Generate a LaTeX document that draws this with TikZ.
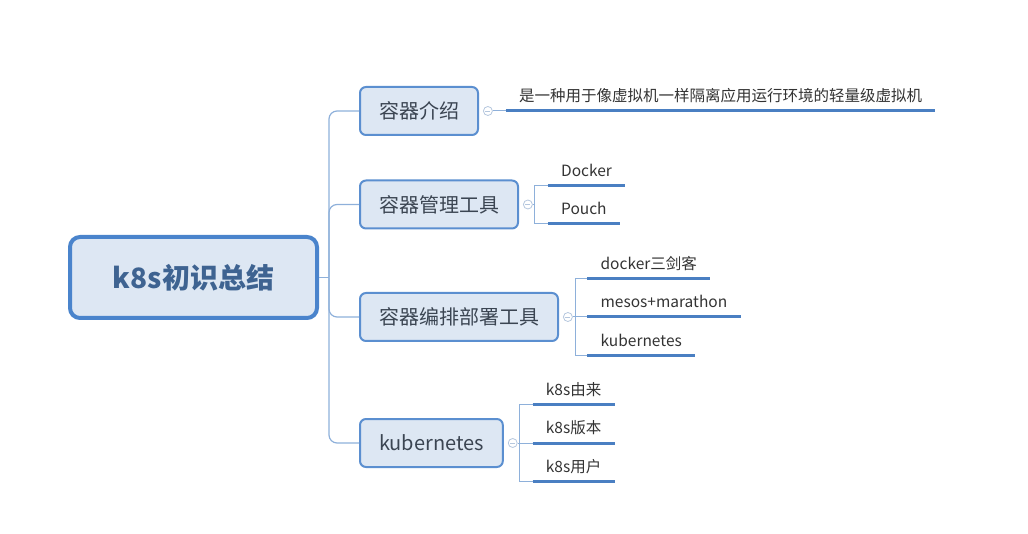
\documentclass[tikz,border=0pt]{standalone}
\usepackage{fontspec}
\newfontfamily\cjk{Noto Sans CJK SC}
\usetikzlibrary{positioning,calc}

\definecolor{boxfill}{HTML}{DDE7F3}
\definecolor{boxline}{HTML}{5B8FD0}
\definecolor{rootline}{HTML}{4A84CC}
\definecolor{roottext}{HTML}{3E6391}
\definecolor{topictext}{HTML}{3B4552}
\definecolor{twigline}{HTML}{8EB0DA}
\definecolor{ulinecolor}{HTML}{4A7FC2}
\definecolor{foldline}{HTML}{B5C7DE}

\begin{document}
\begin{tikzpicture}[%
x=1pt, y=-1pt,
root/.style={draw=rootline, line width=4pt, fill=boxfill, rounded corners=10pt,
  minimum width=247pt, minimum height=81pt, text=roottext,
  font=\cjk\bfseries\fontsize{28}{32}\selectfont},
topic/.style={draw=boxline, line width=2pt, fill=boxfill, rounded corners=6pt,
  minimum height=48pt, inner xsep=19pt, anchor=west, text=topictext,
  font=\cjk\fontsize{20}{24}\selectfont},
fold/.style={circle, draw=foldline, line width=0.8pt, minimum size=9pt, inner sep=0pt,
  path picture={\draw[foldline, line width=0.8pt]
    ([xshift=2pt]path picture bounding box.west) -- ([xshift=-2pt]path picture bounding box.east);}},
leaf/.style={anchor=south west, inner xsep=13pt, inner ysep=5pt, text height=12pt,
  text depth=4pt, text=black!80, font=\cjk\fontsize{15.5}{18}\selectfont},
branch/.style={draw=twigline, line width=1.2pt, rounded corners=8pt},
twig/.style={draw=twigline, line width=1pt},
uline/.style={draw=ulinecolor, line width=3pt}
]
\useasboundingbox (0,0) rectangle (1028,534);

\node[root] (root) at (193.5,277.5) {k8s初识总结};
\coordinate (trunk) at ($(root.east)+(10,0)$);

\node[topic] (intro) at (359,111) {容器介绍};
\node[topic] (tools) at (359,204.5) {容器管理工具};
\node[topic] (orch) at (359,317) {容器编排部署工具};
\node[topic, minimum width=142pt] (kube) at (359,443) {kubernetes};

\node[fold] (c1) [right=4pt of intro] {};
\node[fold] (c2) [right=4pt of tools] {};
\node[fold] (c3) [right=4pt of orch] {};
\node[fold] (c4) [right=4pt of kube] {};

\coordinate (b2) at ($(c2)+(7,0)$);
\coordinate (b3) at ($(c3)+(7.5,0)$);
\coordinate (b4) at ($(c4)+(7,0)$);

% leaves
\node[leaf] (lead) at ($(c1)+(18,0)$) {是一种用于像虚拟机一样隔离应用运行环境的轻量级虚拟机};
\node[leaf] (docker) at ($(b2)+(13,-19)$) {Docker};
\node[leaf] (pouch) at ($(b2)+(13,19)$) {Pouch};
\node[leaf] (swarm) at ($(b3)+(12,-38.5)$) {docker三剑客};
\node[leaf] (mesos) at ($(b3)+(12,0)$) {mesos+marathon};
\node[leaf] (kubes) at ($(b3)+(12,38.5)$) {kubernetes};
\node[leaf] (origin) at ($(b4)+(13,-38.5)$) {k8s由来};
\node[leaf] (version) at ($(b4)+(13,0)$) {k8s版本};
\node[leaf] (users) at ($(b4)+(13,38.5)$) {k8s用户};

% trunk to topics
\draw[branch] (root) -- (trunk);
\draw[branch] (trunk) |- (intro);
\draw[branch] (trunk) |- (tools);
\draw[branch] (trunk) |- (orch);
\draw[branch] (trunk) |- (kube);

% topics to leaves
\draw[twig] (c1) -- (lead.south west);
\draw[twig] (c2) -- (b2);
\draw[twig] (b2) |- (docker.south west);
\draw[twig] (b2) |- (pouch.south west);
\draw[twig] (c3) -- (b3);
\draw[twig] (b3) |- (swarm.south west);
\draw[twig] (b3) -- (mesos.south west);
\draw[twig] (b3) |- (kubes.south west);
\draw[twig] (c4) -- (b4);
\draw[twig] (b4) |- (origin.south west);
\draw[twig] (b4) -- (version.south west);
\draw[twig] (b4) |- (users.south west);

\foreach \n in {lead,docker,pouch,swarm,mesos,kubes,origin,version,users}
  \draw[uline] (\n.south west) -- (\n.south east);

\end{tikzpicture}
\end{document}
